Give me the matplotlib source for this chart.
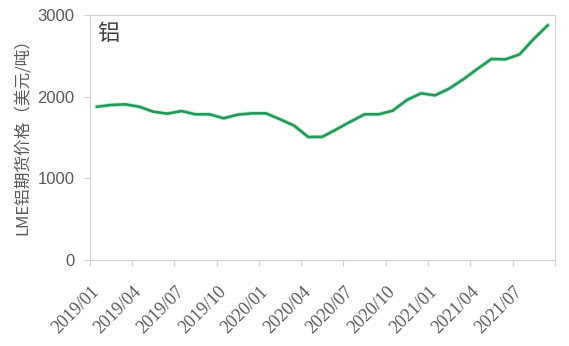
import matplotlib
matplotlib.use("Agg")
import matplotlib.pyplot as plt
import matplotlib.transforms as mtransforms
import numpy as np

plt.rcParams['font.family'] = ['Noto Sans CJK SC', 'DejaVu Sans']

# Monthly LME aluminium futures price, 2019/01 - 2021/09 (USD/t)
months = [f"{y}/{m:02d}" for y in (2019, 2020, 2021) for m in range(1, 13)][:33]
prices = [1877, 1898, 1906, 1877, 1816, 1792, 1824, 1784, 1784, 1735, 1780,
          1796, 1796, 1723, 1645, 1506, 1508, 1600, 1694, 1784, 1784, 1829,
          1959, 2041, 2016, 2098, 2212, 2339, 2461, 2457, 2518, 2706, 2874]
tick_labels = months[::3]
y_ticks = [0, 1000, 2000, 3000]

fig = plt.figure(figsize=(5.69, 3.46), dpi=100)
ax = fig.add_axes([0.158, 0.2486, 0.817, 0.708])

x = np.arange(len(prices)) + 0.5
ax.plot(x, prices, color='#a8e6b8', lw=3.2, alpha=0.6, solid_joinstyle='round')
ax.plot(x, prices, color='#22985a', lw=1.9, solid_joinstyle='round')

ax.set_xlim(0, len(prices))
ax.set_ylim(0, 3000)
ax.set_yticks(y_ticks)
ax.set_yticklabels([str(v) for v in y_ticks])
ax.set_xticks(np.arange(0, len(prices) + 1, 3))
ax.set_xticklabels(tick_labels + [''], rotation=45, ha='right', va='center',
                   rotation_mode='anchor')

for s in ax.spines.values():
    s.set_color('#d0d0d0')
    s.set_linewidth(0.8)
ax.tick_params(axis='both', colors='#d0d0d0', length=4, width=0.8)
ax.tick_params(axis='x', pad=17)
ax.tick_params(axis='y', pad=7)

for lbl in ax.get_yticklabels():
    lbl.set_fontfamily(['Liberation Sans'])
    lbl.set_fontsize(12)
    lbl.set_color('#595959')

# date labels in a serif face, nudged right of their ticks
shift = mtransforms.ScaledTranslation(5 / 72, 0, fig.dpi_scale_trans)
for lbl in ax.get_xticklabels():
    lbl.set_fontfamily(['Liberation Serif'])
    lbl.set_fontsize(13)
    lbl.set_color('#595959')
    lbl.set_transform(lbl.get_transform() + shift)

ax.set_ylabel('LME铝期货价格（美元/吨）', fontsize=12, color='#595959')
ax.yaxis.set_label_coords(-0.127, 0.52)
ax.text(0.016, 0.925, '铝', transform=ax.transAxes, fontsize=16,
        color='#404040', va='center', ha='left')

fig.savefig('out.png', dpi=100, facecolor='white')
